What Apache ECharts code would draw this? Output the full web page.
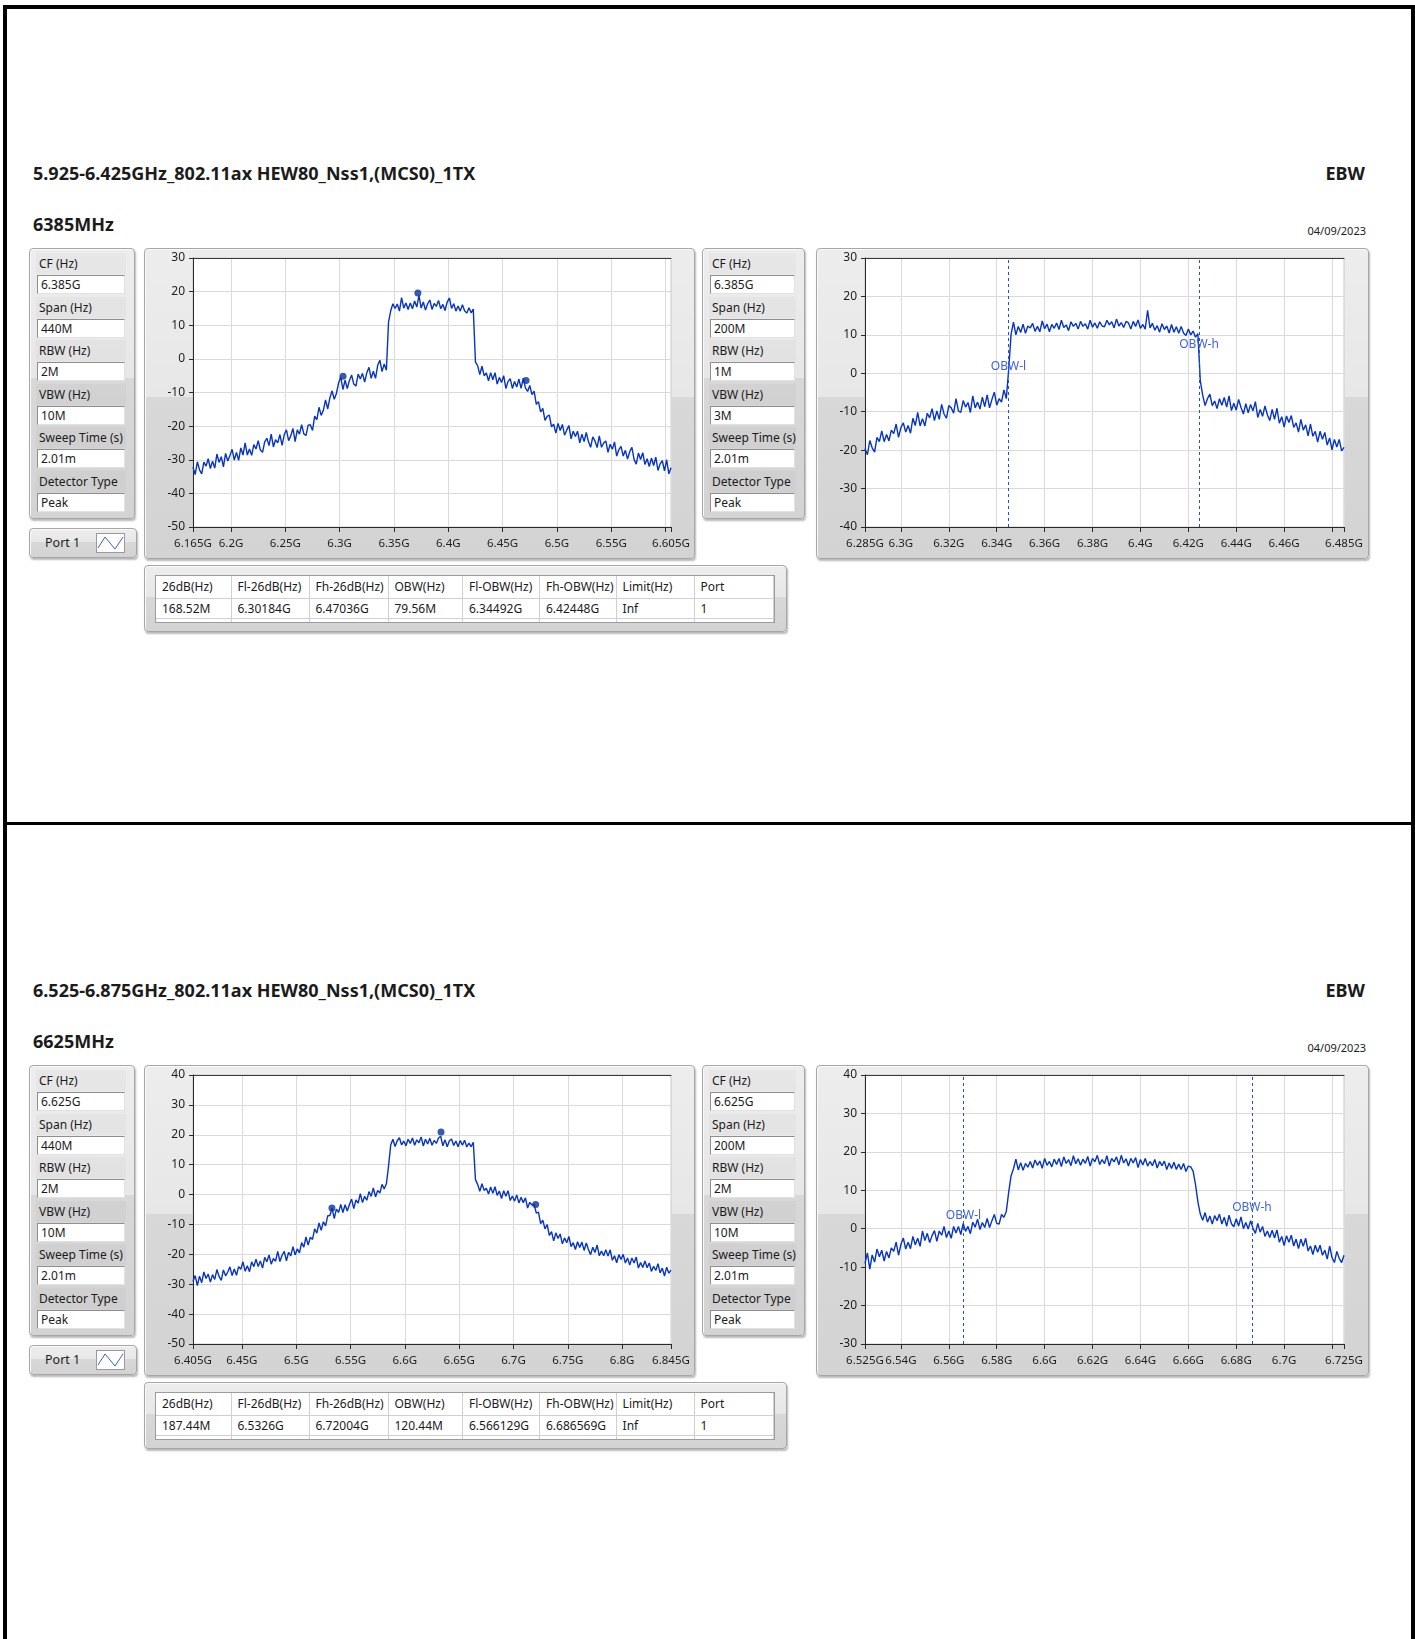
<!DOCTYPE html>
<html>
<head>
<meta charset="utf-8">
<title>EBW</title>
<script src="https://cdn.jsdelivr.net/npm/echarts@6/dist/echarts.min.js"></script>
<style>
  html, body { margin: 0; padding: 0; background: #fff; }
  body {
    width: 1415px; height: 1639px; position: relative; overflow: hidden;
    font-family: 'Noto Sans', 'Open Sans', sans-serif; color: #1b1b1b;
  }
  .bar { position: absolute; background: #000; }
  .head { position: absolute; font-weight: bold; font-size: 18px; line-height: 22px; white-space: nowrap; }
  .date { position: absolute; font-size: 11px; line-height: 14px; }
  .panel {
    position: absolute; box-sizing: border-box;
    border: 1px solid #a6a6a6; border-radius: 4px;
    background: linear-gradient(#ededed 0%, #e7e7e7 48%, #d8d8d8 48%, #d3d3d3 100%);
    box-shadow: inset 1px 1px 0 #fafafa, 1px 2px 2px rgba(0, 0, 0, 0.28);
  }
  .plabel {
    position: absolute; left: 6px; right: 8px; height: 21px; line-height: 21px;
    padding-left: 3px; font-size: 12px; background: rgba(0, 0, 0, 0.025);
  }
  .pbox {
    position: absolute; left: 7px; right: 9px; height: 19px; line-height: 17px;
    box-sizing: border-box; background: #fff; padding-left: 3px; font-size: 12px;
    border: 1px solid; border-color: #8e8e8e #e2e2e2 #e2e2e2 #8e8e8e;
  }
  .port { position: absolute; left: 15px; top: 0; line-height: 28px; font-size: 12.5px; }
  .tbl {
    position: absolute; left: 10px; top: 9px; width: 618px; height: 46px;
    background: #fff; border: 1px solid #9c9c9c; overflow: hidden;
  }
  .cell {
    position: absolute; box-sizing: border-box; padding-left: 6px; font-size: 12px;
    border-right: 1px solid #d0d0d0; border-bottom: 1px solid #d0d0d0; white-space: nowrap;
  }
</style>
</head>
<body>
<script>
// ---- page text ----
const sectionTitles = [
  '5.925-6.425GHz_802.11ax HEW80_Nss1,(MCS0)_1TX',
  '6.525-6.875GHz_802.11ax HEW80_Nss1,(MCS0)_1TX',
];
const channelNames = ['6385MHz', '6625MHz'];
const testName = 'EBW';
const reportDate = '04/09/2023';
const paramNames = ['CF (Hz)', 'Span (Hz)', 'RBW (Hz)', 'VBW (Hz)', 'Sweep Time (s)', 'Detector Type'];
const wideParams = [
  ['6.385G', '440M', '2M', '10M', '2.01m', 'Peak'],
  ['6.625G', '440M', '2M', '10M', '2.01m', 'Peak'],
];
const narrowParams = [
  ['6.385G', '200M', '1M', '3M', '2.01m', 'Peak'],
  ['6.625G', '200M', '2M', '10M', '2.01m', 'Peak'],
];
const tableHeaders = ['26dB(Hz)', 'Fl-26dB(Hz)', 'Fh-26dB(Hz)', 'OBW(Hz)', 'Fl-OBW(Hz)', 'Fh-OBW(Hz)', 'Limit(Hz)', 'Port'];
const tableRows = [
  ['168.52M', '6.30184G', '6.47036G', '79.56M', '6.34492G', '6.42448G', 'Inf', '1'],
  ['187.44M', '6.5326G', '6.72004G', '120.44M', '6.566129G', '6.686569G', 'Inf', '1'],
];

// ---- axes (GHz / dBm) ----
const wideStart = [6.165, 6.405];
const wideStep = 0.002;
const narrowStart = [6.285, 6.525];
const narrowStep = 0.001;
const wideTicks = [
  [6.165, 6.2, 6.25, 6.3, 6.35, 6.4, 6.45, 6.5, 6.55, 6.6, 6.605],
  [6.405, 6.45, 6.5, 6.55, 6.6, 6.65, 6.7, 6.75, 6.8, 6.845],
];
const wideLabels = [
  [6.165, 6.2, 6.25, 6.3, 6.35, 6.4, 6.45, 6.5, 6.55, 6.605],
  [6.405, 6.45, 6.5, 6.55, 6.6, 6.65, 6.7, 6.75, 6.8, 6.845],
];
const narrowTicks = [
  [6.285, 6.3, 6.32, 6.34, 6.36, 6.38, 6.4, 6.42, 6.44, 6.46, 6.48, 6.485],
  [6.525, 6.54, 6.56, 6.58, 6.6, 6.62, 6.64, 6.66, 6.68, 6.7, 6.72, 6.725],
];
const narrowLabels = [
  [6.285, 6.3, 6.32, 6.34, 6.36, 6.38, 6.4, 6.42, 6.44, 6.46, 6.485],
  [6.525, 6.54, 6.56, 6.58, 6.6, 6.62, 6.64, 6.66, 6.68, 6.7, 6.725],
];
const wideY = [[-50, 30], [-50, 40]];
const narrowY = [[-40, 30], [-30, 40]];

// ---- traces (dBm per sweep point) ----
const ch6385WideDb = [
  -32.2, -34.4, -30.6, -33.0, -34.2, -30.7, -31.9, -29.7, -32.6, -30.4,
  -32.5, -28.3, -30.8, -29.1, -32.1, -28.1, -30.4, -28.7, -26.9, -30.1,
  -27.8, -30.2, -26.5, -28.6, -25.0, -28.6, -26.8, -28.7, -25.5, -26.8,
  -24.3, -27.1, -27.8, -24.7, -23.6, -25.8, -22.4, -26.2, -24.0, -25.0,
  -22.5, -25.7, -22.5, -21.1, -24.3, -22.9, -20.7, -24.6, -21.1, -22.4,
  -19.6, -22.3, -22.8, -19.7, -19.6, -21.3, -17.0, -18.1, -14.4, -16.8,
  -15.3, -12.2, -14.9, -11.6, -9.5, -12.0, -10.3, -7.2, -5.4, -9.1,
  -6.3, -8.8, -6.4, -4.8, -7.5, -8.1, -4.5, -6.0, -4.3, -6.9,
  -4.1, -2.5, -5.8, -3.7, -5.8, -1.9, -0.4, -3.8, -1.5, -3.4,
  11.0, 14.3, 16.4, 15.0, 16.3, 14.2, 18.2, 15.1, 16.6, 14.7,
  16.6, 14.9, 17.2, 15.4, 18.9, 15.1, 16.9, 14.5, 16.4, 17.5,
  14.7, 16.5, 15.6, 17.4, 14.9, 16.2, 14.4, 16.9, 18.1, 15.0,
  16.4, 14.2, 15.7, 14.2, 16.1, 14.3, 13.6, 15.2, 13.7, 14.8,
  -1.0, -2.0, -4.7, -2.2, -5.0, -4.2, -6.5, -4.1, -6.2, -4.1,
  -7.5, -5.5, -7.0, -5.0, -8.8, -6.7, -5.9, -8.8, -6.7, -8.4,
  -6.0, -8.8, -5.7, -8.6, -9.7, -7.9, -10.6, -9.6, -13.5, -12.7,
  -15.8, -14.7, -18.3, -17.1, -16.7, -20.2, -19.4, -22.1, -19.2, -21.3,
  -19.5, -22.7, -21.2, -19.8, -23.8, -21.5, -23.1, -21.5, -25.0, -22.4,
  -24.6, -21.9, -24.6, -26.3, -23.2, -24.4, -26.4, -22.9, -26.3, -25.0,
  -24.4, -27.8, -25.4, -26.9, -24.7, -28.9, -27.0, -26.0, -28.9, -27.2,
  -29.8, -27.6, -26.3, -29.9, -31.3, -28.0, -29.9, -27.9, -31.4, -29.7,
  -32.0, -29.5, -31.7, -29.2, -33.2, -31.2, -30.3, -33.3, -30.0, -34.2, -32.4,
];
const ch6385NarrowDb = [
  -19.6, -21.2, -17.5, -19.4, -20.5, -16.7, -17.8, -15.0, -17.8, -15.9,
  -17.6, -14.8, -15.7, -13.2, -16.7, -14.1, -12.9, -15.3, -13.6, -15.6,
  -11.7, -13.6, -10.2, -13.7, -11.8, -13.7, -10.4, -11.6, -9.2, -12.3,
  -9.8, -12.0, -8.1, -10.6, -11.7, -8.4, -9.0, -10.4, -6.6, -9.8,
  -10.2, -7.1, -8.8, -7.6, -10.2, -5.9, -9.0, -7.5, -9.3, -6.2,
  -8.7, -5.6, -9.0, -6.8, -4.9, -8.3, -6.6, -7.5, -4.3, -6.6,
  1.0, 10.2, 13.3, 10.0, 12.2, 10.6, 12.8, 10.4, 12.3, 11.8,
  13.0, 10.9, 12.2, 10.8, 13.6, 11.6, 12.8, 10.8, 12.7, 11.7,
  13.1, 11.4, 13.8, 11.9, 12.6, 11.1, 13.4, 12.2, 13.0, 11.5,
  13.5, 12.2, 12.9, 11.5, 13.8, 12.0, 13.1, 11.7, 13.4, 12.3,
  12.1, 13.8, 12.6, 13.4, 11.8, 14.1, 12.3, 13.2, 11.9, 13.5,
  13.1, 11.5, 13.5, 12.2, 13.9, 11.7, 12.7, 11.5, 16.4, 11.8,
  13.0, 11.2, 12.4, 10.7, 12.9, 11.4, 12.3, 10.5, 12.7, 10.7,
  12.1, 10.4, 12.2, 10.5, 9.8, 11.5, 10.0, 11.0, 9.4, 10.3,
  -2.0, -5.7, -8.4, -6.6, -5.4, -8.4, -7.2, -9.2, -6.6, -8.3,
  -6.3, -8.8, -5.9, -9.7, -7.8, -9.6, -6.8, -8.9, -10.6, -7.9,
  -10.3, -8.1, -9.8, -7.4, -11.5, -9.4, -11.2, -8.5, -10.8, -12.3,
  -9.4, -12.0, -9.1, -13.0, -11.3, -14.0, -11.1, -12.8, -11.0, -14.1,
  -12.9, -15.3, -12.0, -14.8, -13.4, -16.3, -13.2, -16.4, -15.1, -17.9,
  -15.1, -17.2, -15.4, -18.7, -16.8, -19.9, -17.2, -19.2, -17.2, -20.2,
  -19.3,
];
const ch6625WideDb = [
  -29.1, -27.1, -30.5, -27.3, -29.5, -25.9, -28.1, -26.6, -29.3, -26.8,
  -28.4, -25.1, -27.4, -28.7, -25.2, -27.2, -25.9, -24.2, -27.1, -24.9,
  -27.0, -24.1, -25.0, -22.5, -25.7, -23.8, -25.8, -22.5, -24.1, -21.6,
  -24.1, -22.2, -24.6, -21.0, -22.5, -20.2, -23.3, -21.4, -22.3, -19.0,
  -22.4, -20.3, -19.0, -22.2, -19.3, -20.5, -17.4, -20.2, -18.2, -19.5,
  -16.1, -17.6, -14.2, -16.9, -14.3, -15.0, -11.5, -12.9, -9.5, -12.0,
  -9.1, -10.5, -7.1, -7.0, -4.6, -8.0, -4.9, -6.0, -3.3, -6.0,
  -3.4, -5.5, -3.3, -1.5, -4.7, -1.8, -2.9, 0.3, -2.7, -0.6,
  -1.9, 1.0, -0.6, 2.2, -0.8, 1.4, 0.5, 3.4, 1.9, 3.6,
  9.5, 16.6, 18.5, 16.1, 18.0, 19.0, 16.6, 17.9, 16.3, 18.5,
  17.1, 18.9, 16.5, 18.3, 17.3, 19.3, 16.2, 18.5, 16.9, 18.8,
  16.5, 18.1, 17.1, 18.9, 19.5, 16.3, 18.3, 16.0, 18.0, 18.6,
  16.4, 17.9, 16.0, 18.1, 16.5, 18.2, 15.9, 17.2, 16.0, 17.5,
  5.0, 3.4, 1.1, 3.6, 1.4, 2.1, 0.2, 2.5, 0.4, 2.6,
  -0.3, 1.2, -1.3, 1.3, -0.6, 1.3, -2.0, -0.5, -2.2, -0.1,
  -2.8, -0.9, -2.7, -1.1, -4.5, -2.6, -3.5, -3.3, -6.2, -5.9,
  -9.7, -8.6, -11.5, -10.0, -13.7, -12.4, -15.5, -12.8, -14.7, -13.2,
  -16.5, -14.5, -16.1, -14.0, -17.4, -16.1, -18.4, -15.8, -17.7, -15.9,
  -18.7, -16.2, -18.4, -20.1, -17.6, -19.4, -16.9, -20.5, -18.9, -20.5,
  -18.5, -20.6, -18.5, -22.0, -20.5, -22.8, -20.1, -21.7, -20.0, -22.9,
  -21.2, -23.6, -21.2, -22.9, -20.9, -24.6, -22.7, -24.4, -22.2, -24.5,
  -22.9, -25.7, -24.0, -25.4, -23.1, -26.2, -24.6, -27.3, -24.3, -26.3, -25.3,
];
const ch6625NarrowDb = [
  -9.0, -6.3, -10.5, -6.8, -8.7, -5.3, -7.3, -5.6, -8.4, -5.9,
  -7.6, -5.0, -5.9, -3.5, -6.9, -4.1, -2.4, -5.3, -3.5, -5.2,
  -2.0, -4.2, -2.5, -4.6, -0.6, -3.1, -1.2, -3.6, -1.8, -0.5,
  -3.3, -0.6, -1.7, 0.6, -2.3, -0.6, -2.5, 0.6, -1.1, 0.6,
  -1.5, 1.4, -0.7, 0.6, -1.3, 1.7, 0.4, 2.5, -0.2, 1.6,
  0.3, 2.7, 0.3, 2.1, 3.7, 1.4, 1.2, 3.7, 3.0, 4.5,
  9.5, 13.8, 15.6, 18.1, 15.3, 17.2, 15.2, 17.0, 16.0, 17.5,
  15.8, 17.9, 16.5, 17.6, 15.7, 18.3, 16.5, 17.5, 16.1, 18.1,
  16.7, 18.3, 16.2, 18.7, 17.0, 18.0, 16.4, 19.0, 16.9, 18.2,
  16.5, 18.1, 17.0, 18.8, 16.3, 18.3, 17.4, 19.1, 16.7, 18.0,
  16.9, 19.0, 16.3, 18.3, 17.4, 18.7, 16.6, 19.1, 17.1, 18.2,
  16.3, 18.3, 17.1, 18.5, 15.9, 18.0, 16.6, 18.3, 16.3, 17.5,
  16.4, 18.0, 15.8, 17.5, 16.4, 17.6, 15.4, 17.1, 15.7, 17.3,
  15.4, 16.8, 15.4, 17.0, 14.9, 16.3, 16.1, 15.0, 11.5, 7.0,
  3.8, 2.2, 4.2, 1.7, 3.3, 1.2, 3.4, 2.1, 3.8, 1.2,
  3.0, 0.6, 3.5, 1.3, 0.5, 2.6, 0.7, 3.1, 0.0, 1.6,
  -0.1, 2.1, 0.1, -1.2, 1.4, -0.9, 0.6, -2.0, -0.6, -2.3,
  -0.4, -2.4, -0.3, -3.5, -2.0, -4.4, -1.8, -3.5, -1.7, -4.5,
  -2.7, -5.2, -2.7, -4.6, -2.5, -5.8, -4.5, -6.7, -4.3, -6.1,
  -4.3, -6.9, -5.6, -7.9, -4.5, -7.5, -8.8, -5.9, -7.7, -8.8,
  -6.9,
];
const widePeaks = [
  [[6.3031, -5.2], [6.372, 19.6], [6.4716, -6.4]],
  [[6.5329, -4.5], [6.6333, 20.9], [6.7204, -3.3]],
];
const obwNames = ['OBW-l', 'OBW-h'];
const obwLabelDb = [[1.7, 7.6], [3.5, 5.5]];

const wideTraces = [ch6385WideDb, ch6625WideDb];
const narrowTraces = [ch6385NarrowDb, ch6625NarrowDb];

// ---- layout helpers ----
const sectionShift = 817;
const traceColor = '#0634c4';

function place(cls, box, text, parent) {
  const node = document.createElement('div');
  node.className = cls;
  Object.entries(box).forEach(([k, v]) => {
    node.style[k] = typeof v === 'number' ? v + 'px' : v;
  });
  if (text !== undefined) node.textContent = text;
  (parent || document.body).appendChild(node);
  return node;
}

function paramPanel(left, top, width, values) {
  const panel = place('panel', { left, top, width, height: 271 });
  paramNames.forEach((name, k) => {
    place('plabel', { top: 4 + k * 43.6 }, name, panel);
    place('pbox', { top: 26 + k * 43.6 }, values[k], panel);
  });
}

function resultTable(top, row) {
  const panel = place('panel', { left: 144, top, width: 643, height: 67 });
  const tbl = place('tbl', {}, undefined, panel);
  const widths = [75.5, 78, 79, 74.5, 77, 76.6, 78, 79.5];
  let x = 0;
  widths.forEach((w, c) => {
    place('cell', { left: x, top: 0, width: w, height: 23, lineHeight: '22px' }, tableHeaders[c], tbl);
    place('cell', { left: x, top: 23, width: w, height: 20, lineHeight: '19px' }, row[c], tbl);
    place('cell', { left: x, top: 43, width: w, height: 20 }, '', tbl);
    x += w;
  });
}

function portBox(top) {
  const box = place('panel', { left: 29, top, width: 108, height: 30 });
  place('port', {}, 'Port 1', box);
  box.insertAdjacentHTML('beforeend',
    '<svg style="position:absolute;left:66px;top:4px" width="29" height="20">' +
    '<rect x="0.5" y="0.5" width="28" height="19" fill="#fff" stroke="#9a9a9a"/>' +
    '<polyline points="2,15 9,4 19,16 27,4" fill="none" stroke="#3a5fd0" stroke-width="1"/></svg>');
}

function spectrumOption(spec) {
  const text = { color: '#1e1e1e', fontFamily: 'Noto Sans' };
  const gHz = (v) => +v.toFixed(3) + 'G';
  const trace = spec.db.map((v, i) => [spec.start + i * spec.step, v]);
  const line = {
    type: 'line',
    data: trace,
    symbol: 'none',
    lineStyle: { color: traceColor, width: 1.4 },
    z: 3,
  };
  if (spec.obw) {
    line.markLine = {
      silent: true,
      precision: 6,
      symbol: ['none', 'none'],
      label: { show: false },
      lineStyle: { color: '#1f4fe0', width: 1, type: [3, 3] },
      data: spec.obw.map((f) => ({ xAxis: f })),
    };
    line.markPoint = {
      silent: true,
      symbol: 'circle',
      symbolSize: 1,
      itemStyle: { color: 'rgba(0,0,0,0)' },
      label: { show: true, position: 'inside', formatter: '{b}', color: '#3f62e6', fontSize: 12, fontFamily: 'Noto Sans' },
      data: spec.obw.map((f, k) => ({ name: obwNames[k], coord: [f, spec.obwDb[k]] })),
    };
  }
  const series = [line];
  if (spec.peaks) {
    series.push({
      type: 'scatter',
      data: spec.peaks,
      symbolSize: 7,
      itemStyle: { color: '#08309e' },
      z: 4,
    });
  }
  return {
    animation: false,
    grid: {
      left: 48, right: spec.right, top: 9, bottom: 31,
      show: true, backgroundColor: '#fff', borderColor: '#c9c9c9', borderWidth: 1,
    },
    xAxis: [
      {
        type: 'value',
        min: spec.xMin,
        max: spec.xMax,
        axisLine: { onZero: false, lineStyle: { color: '#2a2a2a' } },
        axisTick: { customValues: spec.ticks, length: 5, lineStyle: { color: '#2a2a2a' } },
        axisLabel: { customValues: spec.labels, formatter: gHz, fontSize: 11.5, margin: 11, ...text },
        splitLine: { show: true, lineStyle: { color: '#dadada' } },
      },
      {
        type: 'value',
        position: 'top',
        min: spec.xMin,
        max: spec.xMax,
        axisLine: { show: true, onZero: false, lineStyle: { color: '#3a3a3a' } },
        axisTick: { show: false },
        axisLabel: { show: false },
        splitLine: { show: false },
      },
    ],
    yAxis: {
      type: 'value',
      min: spec.yMin,
      max: spec.yMax,
      interval: 10,
      axisLine: { show: true, onZero: false, lineStyle: { color: '#2a2a2a' } },
      axisTick: { show: true, length: 4, lineStyle: { color: '#2a2a2a' } },
      axisLabel: { fontSize: 12, margin: 8, ...text },
      splitLine: { show: true, lineStyle: { color: '#dadada' } },
    },
    series,
  };
}

function chartPanel(left, top, width, spec) {
  const panel = place('panel', { left, top, width, height: 311 });
  const chart = echarts.init(panel);
  chart.setOption(spectrumOption(spec));
}

// ---- page frame ----
place('bar', { left: 3, top: 5, width: 1412, height: 4 });
place('bar', { left: 3, top: 5, width: 4, height: 1634 });
place('bar', { left: 1411, top: 5, width: 4, height: 1634 });
place('bar', { left: 3, top: 822, width: 1412, height: 3 });

sectionTitles.forEach((title, s) => {
  const dy = s * sectionShift;
  place('head', { left: 33, top: 162 + dy }, title);
  place('head', { right: 50, top: 162 + dy }, testName);
  place('head', { left: 33, top: 213 + dy }, channelNames[s]);
  place('date', { right: 49, top: 224 + dy }, reportDate);

  paramPanel(29, 248 + dy, 106, wideParams[s]);
  portBox(528 + dy);
  paramPanel(702, 248 + dy, 103, narrowParams[s]);
  resultTable(565 + dy, tableRows[s]);

  chartPanel(144, 248 + dy, 551, {
    db: wideTraces[s],
    start: wideStart[s],
    step: wideStep,
    xMin: wideStart[s],
    xMax: wideTicks[s][wideTicks[s].length - 1],
    ticks: wideTicks[s],
    labels: wideLabels[s],
    yMin: wideY[s][0],
    yMax: wideY[s][1],
    peaks: widePeaks[s],
    right: 23,
  });

  chartPanel(816, 248 + dy, 553, {
    db: narrowTraces[s],
    start: narrowStart[s],
    step: narrowStep,
    xMin: narrowStart[s],
    xMax: narrowTicks[s][narrowTicks[s].length - 1],
    ticks: narrowTicks[s],
    labels: narrowLabels[s],
    yMin: narrowY[s][0],
    yMax: narrowY[s][1],
    obw: [parseFloat(tableRows[s][4]), parseFloat(tableRows[s][5])],
    obwDb: obwLabelDb[s],
    right: 24,
  });
});
</script>
</body>
</html>
